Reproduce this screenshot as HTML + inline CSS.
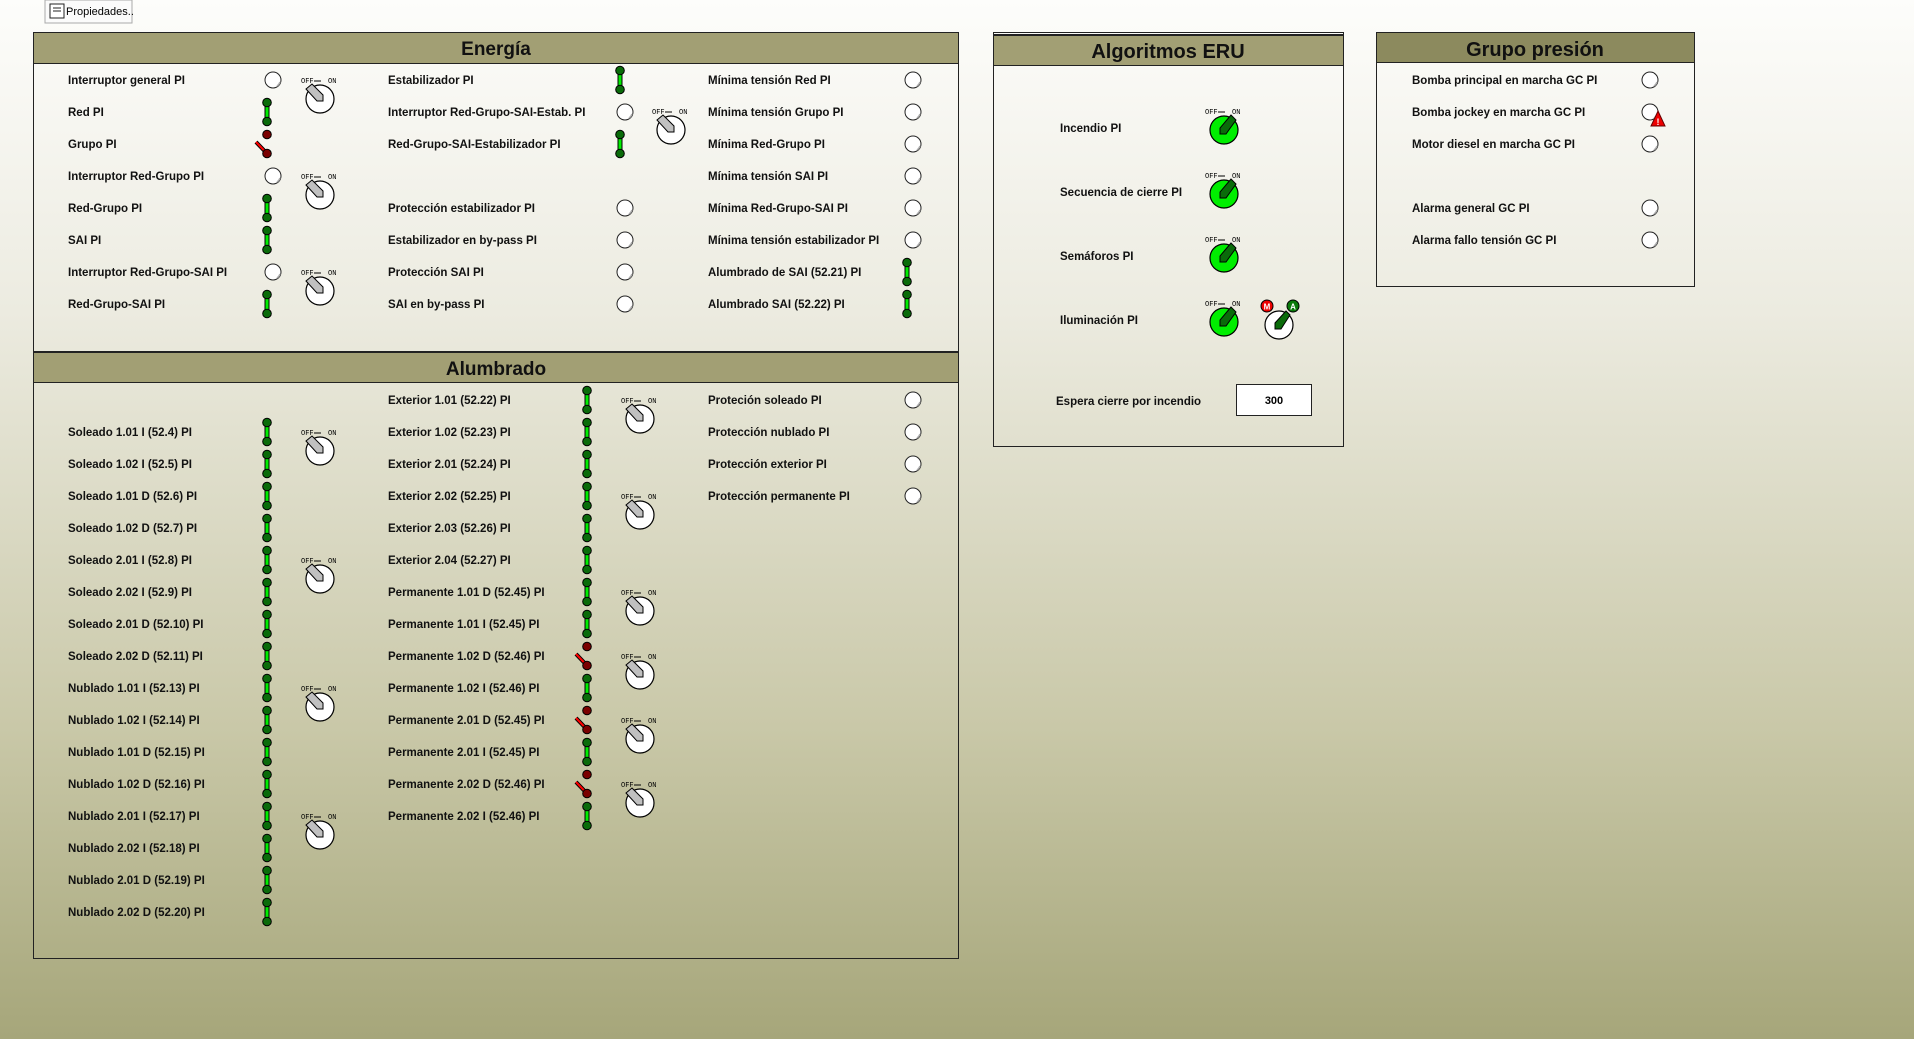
<!DOCTYPE html>
<html><head><meta charset="utf-8"><style>
html,body{margin:0;padding:0;width:1914px;height:1039px;overflow:hidden}
body{background:linear-gradient(#fdfdfb 0%,#ecebe0 30%,#c9c8a8 70%,#a6a67a 100%);}
svg{position:absolute;left:0;top:0}
text{font-family:"Liberation Sans",sans-serif;}
.l{font-size:11.5px;font-weight:bold;fill:#111}
.t{font-size:19px;font-weight:bold;fill:#111;text-anchor:middle}
.o{font-size:7px;font-family:"Liberation Mono",monospace;fill:#000}
</style></head><body>
<svg width="1914" height="1039" viewBox="0 0 1914 1039">
<defs>
<g id="g"><line x1="0" y1="-9.5" x2="0" y2="9.5" stroke="#000" stroke-width="5"/><line x1="0" y1="-9.5" x2="0" y2="9.5" stroke="#00ee00" stroke-width="3"/><circle cx="0" cy="-9.5" r="4.3" fill="#0a6b0a" stroke="#000" stroke-width="1"/><circle cx="0" cy="9.5" r="4.3" fill="#0a6b0a" stroke="#000" stroke-width="1"/></g>
<g id="r"><circle cx="0" cy="-9.5" r="4.3" fill="#7a0000" stroke="#000" stroke-width="1"/><line x1="-11" y1="-2" x2="0" y2="9.5" stroke="#000" stroke-width="4"/><line x1="-11" y1="-2" x2="0" y2="9.5" stroke="#ff0000" stroke-width="2"/><circle cx="0" cy="9.5" r="4.3" fill="#7a0000" stroke="#000" stroke-width="1"/></g>
<g id="c"><circle cx="0" cy="0" r="8" fill="#fff" stroke="#222" stroke-width="1"/><path d="M4,6 A8,8 0 0 0 7,2" stroke="#aaa" stroke-width="1.5" fill="none"/></g>
<g id="k"><text x="-19" y="-16" class="o">OFF</text><text x="8" y="-16" class="o">ON</text><line x1="-6" y1="-18" x2="1" y2="-18" stroke="#000"/><circle r="14" fill="#fff" stroke="#000" stroke-width="1.2"/><polygon points="-14,-10 -8,-15 3,-4 3,2 -3,2" fill="#c0c0c0" stroke="#000" stroke-width="1"/></g>
<g id="gk"><text x="-19" y="-16" class="o">OFF</text><text x="8" y="-16" class="o">ON</text><line x1="-6" y1="-18" x2="1" y2="-18" stroke="#000"/><circle r="14" fill="#00ee00" stroke="#000" stroke-width="1.2"/><polygon points="-4,4 -4,-2 7,-15 12,-10 2,4" fill="#0a6b0a" stroke="#000" stroke-width="1"/></g>
</defs>

<rect x="45" y="0" width="87" height="23" fill="#fbfbfb" stroke="#aaa"/>
<rect x="50" y="4" width="14" height="14" fill="#fff" stroke="#222"/>
<line x1="53" y1="8" x2="61" y2="8" stroke="#222"/><line x1="53" y1="11" x2="61" y2="11" stroke="#222"/>
<text x="66" y="15" font-size="11" fill="#000">Propiedades..</text>

<rect x="33.5" y="32.5" width="925" height="319" fill="none" stroke="#222"/>
<rect x="33.5" y="32.5" width="925" height="31" fill="#a29f74" stroke="#222"/>
<text class="t" x="496" y="55">Energía</text>

<g class="l">
<text x="68" y="84">Interruptor general PI</text>
<text x="68" y="116">Red PI</text>
<text x="68" y="148">Grupo PI</text>
<text x="68" y="180">Interruptor Red-Grupo PI</text>
<text x="68" y="212">Red-Grupo PI</text>
<text x="68" y="244">SAI PI</text>
<text x="68" y="276">Interruptor Red-Grupo-SAI PI</text>
<text x="68" y="308">Red-Grupo-SAI PI</text>
<text x="388" y="84">Estabilizador PI</text>
<text x="388" y="116">Interruptor Red-Grupo-SAI-Estab. PI</text>
<text x="388" y="148">Red-Grupo-SAI-Estabilizador PI</text>
<text x="388" y="212">Protección estabilizador PI</text>
<text x="388" y="244">Estabilizador en by-pass PI</text>
<text x="388" y="276">Protección SAI PI</text>
<text x="388" y="308">SAI en by-pass PI</text>
<text x="708" y="84">Mínima tensión Red PI</text>
<text x="708" y="116">Mínima tensión Grupo PI</text>
<text x="708" y="148">Mínima Red-Grupo PI</text>
<text x="708" y="180">Mínima tensión SAI PI</text>
<text x="708" y="212">Mínima Red-Grupo-SAI PI</text>
<text x="708" y="244">Mínima tensión estabilizador PI</text>
<text x="708" y="276">Alumbrado de SAI (52.21) PI</text>
<text x="708" y="308">Alumbrado SAI (52.22) PI</text>
</g>
<use href="#c" x="273" y="80"/><use href="#g" x="267" y="112"/><use href="#r" x="267" y="144"/>
<use href="#c" x="273" y="176"/><use href="#g" x="267" y="208"/><use href="#g" x="267" y="240"/>
<use href="#c" x="273" y="272"/><use href="#g" x="267" y="304"/>
<use href="#k" x="320" y="99"/><use href="#k" x="320" y="195"/><use href="#k" x="320" y="291"/>
<use href="#g" x="620" y="80"/><use href="#c" x="625" y="112"/><use href="#g" x="620" y="144"/>
<use href="#c" x="625" y="208"/><use href="#c" x="625" y="240"/><use href="#c" x="625" y="272"/><use href="#c" x="625" y="304"/>
<use href="#k" x="671" y="130"/>
<use href="#c" x="913" y="80"/><use href="#c" x="913" y="112"/><use href="#c" x="913" y="144"/>
<use href="#c" x="913" y="176"/><use href="#c" x="913" y="208"/><use href="#c" x="913" y="240"/>
<use href="#g" x="907" y="272"/><use href="#g" x="907" y="304"/>

<rect x="33.5" y="352.5" width="925" height="606" fill="none" stroke="#222"/>
<rect x="33.5" y="352.5" width="925" height="30" fill="#a29f74" stroke="#222"/>
<text class="t" x="496" y="375">Alumbrado</text>
<g class="l">
<text x="68" y="436">Soleado 1.01 I (52.4) PI</text>
<text x="68" y="468">Soleado 1.02 I (52.5) PI</text>
<text x="68" y="500">Soleado 1.01 D (52.6) PI</text>
<text x="68" y="532">Soleado 1.02 D (52.7) PI</text>
<text x="68" y="564">Soleado 2.01 I (52.8) PI</text>
<text x="68" y="596">Soleado 2.02 I (52.9) PI</text>
<text x="68" y="628">Soleado 2.01 D (52.10) PI</text>
<text x="68" y="660">Soleado 2.02 D (52.11) PI</text>
<text x="68" y="692">Nublado 1.01 I (52.13) PI</text>
<text x="68" y="724">Nublado 1.02 I (52.14) PI</text>
<text x="68" y="756">Nublado 1.01 D (52.15) PI</text>
<text x="68" y="788">Nublado 1.02 D (52.16) PI</text>
<text x="68" y="820">Nublado 2.01 I (52.17) PI</text>
<text x="68" y="852">Nublado 2.02 I (52.18) PI</text>
<text x="68" y="884">Nublado 2.01 D (52.19) PI</text>
<text x="68" y="916">Nublado 2.02 D (52.20) PI</text>
<text x="388" y="404">Exterior 1.01 (52.22) PI</text>
<text x="388" y="436">Exterior 1.02 (52.23) PI</text>
<text x="388" y="468">Exterior 2.01 (52.24) PI</text>
<text x="388" y="500">Exterior 2.02 (52.25) PI</text>
<text x="388" y="532">Exterior 2.03 (52.26) PI</text>
<text x="388" y="564">Exterior 2.04 (52.27) PI</text>
<text x="388" y="596">Permanente 1.01 D (52.45) PI</text>
<text x="388" y="628">Permanente 1.01 I (52.45) PI</text>
<text x="388" y="660">Permanente 1.02 D (52.46) PI</text>
<text x="388" y="692">Permanente 1.02 I (52.46) PI</text>
<text x="388" y="724">Permanente 2.01 D (52.45) PI</text>
<text x="388" y="756">Permanente 2.01 I (52.45) PI</text>
<text x="388" y="788">Permanente 2.02 D (52.46) PI</text>
<text x="388" y="820">Permanente 2.02 I (52.46) PI</text>
<text x="708" y="404">Proteción soleado PI</text>
<text x="708" y="436">Protección nublado PI</text>
<text x="708" y="468">Protección exterior PI</text>
<text x="708" y="500">Protección permanente PI</text>
</g>
<use href="#g" x="267" y="432"/><use href="#g" x="267" y="464"/><use href="#g" x="267" y="496"/><use href="#g" x="267" y="528"/>
<use href="#g" x="267" y="560"/><use href="#g" x="267" y="592"/><use href="#g" x="267" y="624"/><use href="#g" x="267" y="656"/>
<use href="#g" x="267" y="688"/><use href="#g" x="267" y="720"/><use href="#g" x="267" y="752"/><use href="#g" x="267" y="784"/>
<use href="#g" x="267" y="816"/><use href="#g" x="267" y="848"/><use href="#g" x="267" y="880"/><use href="#g" x="267" y="912"/>
<use href="#k" x="320" y="451"/><use href="#k" x="320" y="579"/><use href="#k" x="320" y="707"/><use href="#k" x="320" y="835"/>
<use href="#g" x="587" y="400"/><use href="#g" x="587" y="432"/><use href="#g" x="587" y="464"/><use href="#g" x="587" y="496"/>
<use href="#g" x="587" y="528"/><use href="#g" x="587" y="560"/><use href="#g" x="587" y="592"/><use href="#g" x="587" y="624"/>
<use href="#r" x="587" y="656"/><use href="#g" x="587" y="688"/><use href="#r" x="587" y="720"/><use href="#g" x="587" y="752"/>
<use href="#r" x="587" y="784"/><use href="#g" x="587" y="816"/>
<use href="#k" x="640" y="419"/><use href="#k" x="640" y="515"/><use href="#k" x="640" y="611"/><use href="#k" x="640" y="675"/><use href="#k" x="640" y="739"/><use href="#k" x="640" y="803"/>
<use href="#c" x="913" y="400"/><use href="#c" x="913" y="432"/><use href="#c" x="913" y="464"/><use href="#c" x="913" y="496"/>

<rect x="993.5" y="32.5" width="350" height="414" fill="none" stroke="#222"/>
<line x1="993" y1="34.5" x2="1344" y2="34.5" stroke="#222"/>
<rect x="993.5" y="35.5" width="350" height="30" fill="#a29f74" stroke="#222"/>
<text class="t" x="1168" y="58" style="font-size:20px">Algoritmos ERU</text>
<g class="l">
<text x="1060" y="132">Incendio PI</text>
<text x="1060" y="196">Secuencia de cierre PI</text>
<text x="1060" y="260">Semáforos PI</text>
<text x="1060" y="324">Iluminación PI</text>
<text x="1056" y="405">Espera cierre por incendio</text>
</g>
<use href="#gk" x="1224" y="130"/><use href="#gk" x="1224" y="194"/><use href="#gk" x="1224" y="258"/><use href="#gk" x="1224" y="322"/>
<circle cx="1279" cy="325" r="14" fill="#fff" stroke="#000" stroke-width="1.2"/>
<polygon points="1275,329 1275,323 1286,311 1290,315 1281,329" fill="#0a6b0a" stroke="#000"/>
<circle cx="1267" cy="306" r="6" fill="#e00" stroke="#000"/><text x="1267" y="309.5" font-size="8" font-weight="bold" fill="#fff" text-anchor="middle">M</text>
<circle cx="1293" cy="306" r="6" fill="#0a7a0a" stroke="#000"/><text x="1293" y="309.5" font-size="8" font-weight="bold" fill="#fff" text-anchor="middle">A</text>
<rect x="1236.5" y="384.5" width="75" height="31" fill="#fff" stroke="#222"/>
<text x="1274" y="404" font-size="11" font-weight="bold" text-anchor="middle" fill="#000">300</text>

<rect x="1376.5" y="32.5" width="318" height="254" fill="none" stroke="#222"/>
<rect x="1376.5" y="32.5" width="318" height="30" fill="#8c8a5e" stroke="#222"/>
<text class="t" x="1535" y="56" style="font-size:20px">Grupo presión</text>
<g class="l">
<text x="1412" y="84">Bomba principal en marcha GC PI</text>
<text x="1412" y="116">Bomba jockey en marcha GC PI</text>
<text x="1412" y="148">Motor diesel en marcha GC PI</text>
<text x="1412" y="212">Alarma general GC PI</text>
<text x="1412" y="244">Alarma fallo tensión GC PI</text>
</g>
<use href="#c" x="1650" y="80"/><use href="#c" x="1650" y="112"/><use href="#c" x="1650" y="144"/><use href="#c" x="1650" y="208"/><use href="#c" x="1650" y="240"/>
<polygon points="1658,111 1665,126 1651,126" fill="#e00" stroke="#600"/>
<text x="1658" y="125" font-size="9" font-weight="bold" fill="#fff" text-anchor="middle">!</text>
</svg>
</body></html>
